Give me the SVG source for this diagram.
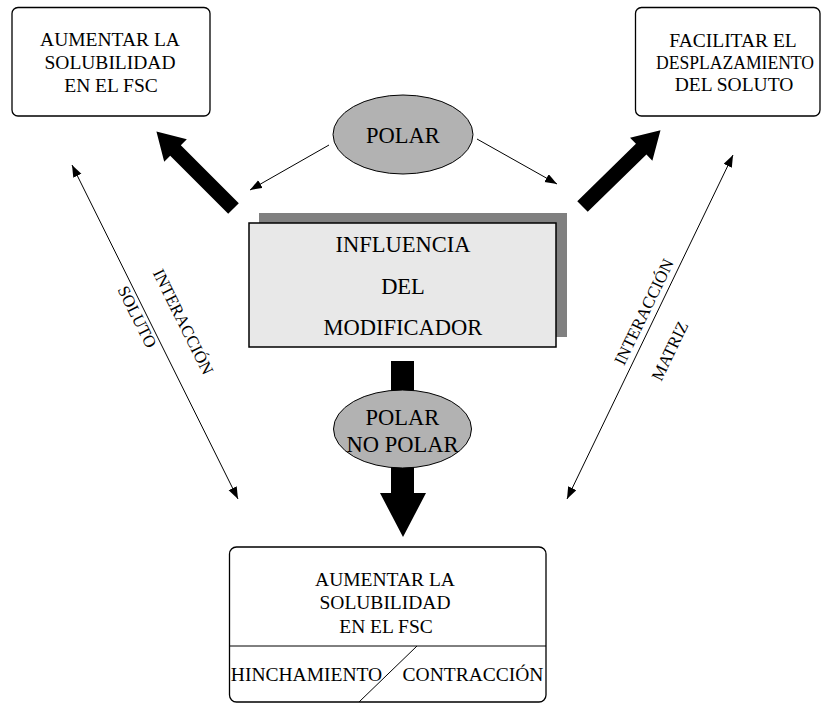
<svg xmlns="http://www.w3.org/2000/svg" width="822" height="704" viewBox="0 0 822 704" font-family="'Liberation Serif', 'Times New Roman', serif">
<defs>
<style>
text{font-family:"Liberation Serif","Times New Roman",serif}
.t{fill:#000;text-anchor:middle}
.s19{font-size:19.5px}
.s22{font-size:22.5px}
.s17{font-size:17px}
.box{fill:#fff;stroke:#000;stroke-width:1.3}
.thin{fill:none;stroke:#000;stroke-width:1}
.ell{fill:#b2b2b2;stroke:#000;stroke-width:1}
.thick{fill:#000}
</style>
<marker id="ah" markerUnits="userSpaceOnUse" markerWidth="13" markerHeight="10" refX="12" refY="4.5" orient="auto-start-reverse" viewBox="0 0 13 10">
<path d="M0,0 L12,4.5 L0,9 z" fill="#000"/>
</marker>
<polygon id="thickArrow" points="0,-7.5 82,-7.5 82,-16 109,0 82,16 82,7.5 0,7.5"/>
</defs>
<rect width="822" height="704" fill="#fff"/>

<g id="connectors">
<use href="#thickArrow" class="thick" transform="translate(233.5,208.5) rotate(-135)"/>
<use href="#thickArrow" class="thick" transform="translate(582.5,206.5) rotate(-44.3)"/>
<line class="thin" x1="329" y1="145" x2="250" y2="190" marker-end="url(#ah)"/>
<line class="thin" x1="477" y1="139" x2="557" y2="184" marker-end="url(#ah)"/>
<line class="thin" x1="72" y1="165" x2="238" y2="499" marker-start="url(#ah)" marker-end="url(#ah)"/>
<line class="thin" x1="733" y1="155" x2="567" y2="499" marker-start="url(#ah)" marker-end="url(#ah)"/>
<polygon class="thick" points="391,361 414,361 414,493 426,493 403,537 380,493 391,493"/>
<text class="t s17" transform="translate(178,324.4) rotate(63.6)">INTERACCIÓN</text>
<text class="t s17" transform="translate(132,319.4) rotate(63.6)">SOLUTO</text>
<text class="t s17" transform="translate(649,314.4) rotate(-64.2)">INTERACCIÓN</text>
<text class="t s17" transform="translate(675,353.4) rotate(-64.2)">MATRIZ</text>
</g>

<g id="box-top-left">
<rect class="box" x="12" y="7.5" width="198" height="108.5" rx="6"/>
<text class="t s19" x="110" y="46">AUMENTAR LA</text>
<text class="t s19" x="110" y="69">SOLUBILIDAD</text>
<text class="t s19" x="111" y="92">EN EL FSC</text>
</g>

<g id="box-top-right">
<rect class="box" x="635.5" y="7.5" width="184.5" height="108.5" rx="6"/>
<text class="t s19" x="733" y="46.5">FACILITAR EL</text>
<text class="t" font-size="18.5" x="735" y="68.5" textLength="158" lengthAdjust="spacingAndGlyphs">DESPLAZAMIENTO</text>
<text class="t s19" x="734" y="91">DEL SOLUTO</text>
</g>

<g id="polar-top">
<ellipse class="ell" cx="403" cy="134.5" rx="70" ry="39.5"/>
<text class="t s22" x="403" y="143">POLAR</text>
</g>

<g id="center-box">
<rect x="259" y="213" width="308" height="124" fill="#808080"/>
<rect x="249" y="223" width="307" height="124" fill="#e8e8e8" stroke="#000" stroke-width="1.5"/>
<text class="t s22" x="403" y="252">INFLUENCIA</text>
<text class="t s22" x="403" y="294">DEL</text>
<text class="t s22" x="403" y="335">MODIFICADOR</text>
</g>

<g id="polar-nopolar">
<ellipse class="ell" cx="402.5" cy="429" rx="69" ry="39"/>
<text class="t s22" x="402.5" y="425">POLAR</text>
<text class="t s22" x="402.5" y="452">NO POLAR</text>
</g>

<g id="box-bottom">
<rect class="box" x="229.5" y="547" width="316.5" height="155" rx="7"/>
<line class="thin" x1="229.5" y1="646" x2="546" y2="646"/>
<line class="thin" x1="417" y1="646" x2="359" y2="702"/>
<text class="t s19" x="385" y="586">AUMENTAR LA</text>
<text class="t s19" x="385" y="609">SOLUBILIDAD</text>
<text class="t s19" x="386" y="633">EN EL FSC</text>
<text class="t s19" x="306.5" y="681">HINCHAMIENTO</text>
<text class="t s19" x="473" y="681">CONTRACCIÓN</text>
</g>
</svg>
